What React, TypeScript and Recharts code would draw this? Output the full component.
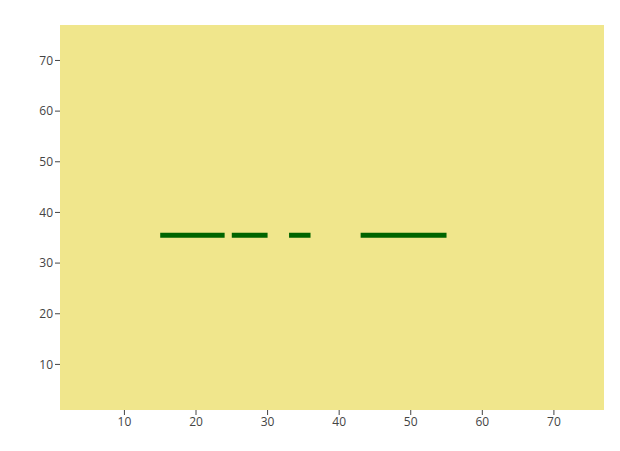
import { CartesianGrid, Line, LineChart, XAxis, YAxis } from "recharts";

// Segment endpoints, all at the same y level
const segStarts = [15, 25, 33, 43];
const segEnds = [24, 30, 36, 55];
const levelY = 35.5;
const ticks = [10, 20, 30, 40, 50, 60, 70];

const points: { x: number; y: number | null }[] = [];
segStarts.forEach((s, i) => {
  points.push({ x: s, y: levelY });
  points.push({ x: segEnds[i], y: levelY });
  points.push({ x: segEnds[i] + 0.01, y: null });
});

const axisStyle = {
  tick: { fill: "#444", fontSize: 12 },
  tickLine: { stroke: "#444" },
  axisLine: false,
  tickSize: 5,
};

export default function App() {
  return (
    <div style={{ position: "absolute", left: 0, top: 0, fontFamily: "Open Sans, sans-serif" }}>
      <LineChart width={620} height={451} data={points} margin={{ top: 25, right: 16, bottom: 0, left: 0 }}>
        <CartesianGrid fill="#f0e68c" stroke="none" />
        <XAxis type="number" dataKey="x" domain={[1, 77]} ticks={ticks} height={41} {...axisStyle} />
        <YAxis type="number" domain={[1, 77]} ticks={ticks} width={60} {...axisStyle} />
        <Line
          dataKey="y"
          stroke="#006400"
          strokeWidth={5}
          dot={false}
          connectNulls={false}
          isAnimationActive={false}
        />
      </LineChart>
    </div>
  );
}
